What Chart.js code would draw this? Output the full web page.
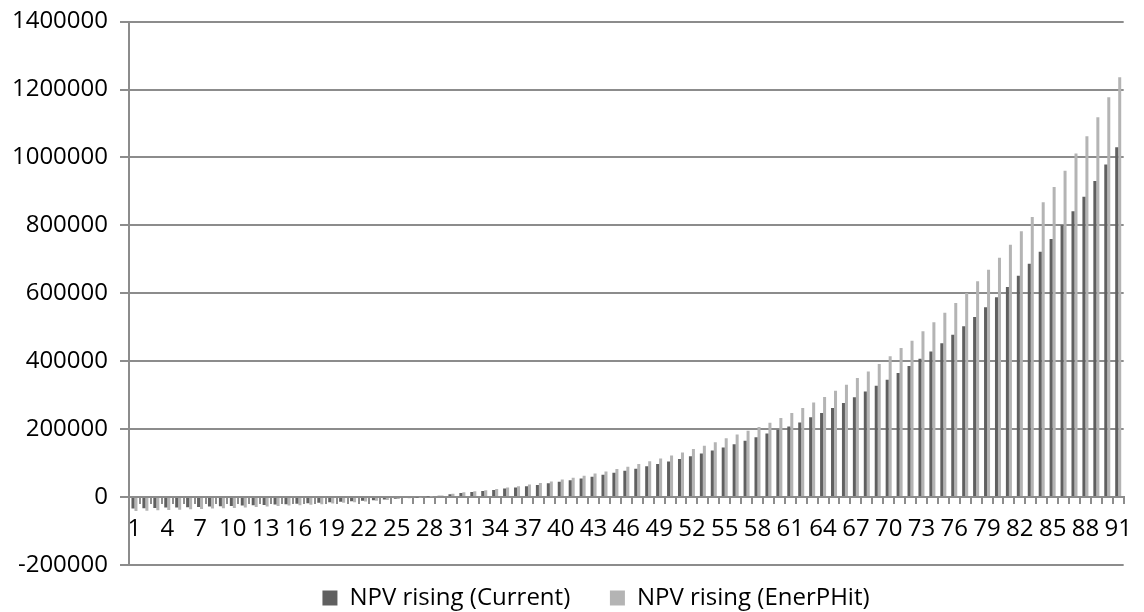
<!DOCTYPE html>
<html>
<head>
<meta charset="utf-8">
<script src="https://cdn.jsdelivr.net/npm/chart.js@4.4.1/dist/chart.umd.min.js"></script>
<style>
  html, body { margin: 0; padding: 0; background: #fff; }
  #wrap { width: 1144px; height: 612px; }
</style>
</head>
<body>
<div id="wrap"><canvas id="npvChart"></canvas></div>
<script>
const years = [
  "1", "2", "3", "4", "5", "6", "7", "8", "9", "10",
  "11", "12", "13", "14", "15", "16", "17", "18", "19", "20",
  "21", "22", "23", "24", "25", "26", "27", "28", "29", "30",
  "31", "32", "33", "34", "35", "36", "37", "38", "39", "40",
  "41", "42", "43", "44", "45", "46", "47", "48", "49", "50",
  "51", "52", "53", "54", "55", "56", "57", "58", "59", "60",
  "61", "62", "63", "64", "65", "66", "67", "68", "69", "70",
  "71", "72", "73", "74", "75", "76", "77", "78", "79", "80",
  "81", "82", "83", "84", "85", "86", "87", "88", "89", "90",
  "91"
];

const npvCurrent = [
  -34000, -33000, -32000, -31000, -30500, -30000, -29000, -28000, -27000, -26000,
  -25000, -24000, -23000, -22000, -21000, -20000, -18500, -17000, -15500, -14000,
  -12500, -10500, -9000, -7000, -5000, -3000, -1000, 1500, 4000, 8000,
  11900, 14900, 17900, 20900, 24900, 27900, 31800, 35800, 40800, 44800,
  49800, 54700, 59700, 65700, 71600, 77600, 83600, 90500, 97500, 104500,
  112400, 120400, 128400, 137300, 146300, 155200, 166200, 176100, 187000, 198300,
  208100, 219900, 234700, 247400, 262100, 276900, 293600, 311200, 327900, 345600,
  365200, 385800, 407400, 429000, 452600, 478100, 502700, 530200, 558600, 588100,
  618500, 651900, 687300, 722600, 759900, 800200, 841400, 884600, 930800, 978900,
  1029900
];

const npvEnerPHit = [
  -41000, -40000, -39000, -38000, -37000, -36000, -35000, -34000, -33000, -32000,
  -30500, -29000, -28000, -26500, -25000, -24000, -22500, -21000, -19000, -17000,
  -15000, -13000, -11000, -8500, -6000, -3500, -1000, 2000, 5000, 9500,
  13900, 16900, 19900, 23900, 27900, 31800, 36800, 41800, 45800, 51700,
  56700, 62700, 69700, 75600, 82600, 89600, 97500, 105500, 113400, 122400,
  131300, 141300, 151200, 161200, 173100, 184100, 195000, 206000, 219000, 232700,
  247400, 262100, 278800, 294500, 313200, 330900, 350500, 370100, 391700, 414300,
  438900, 460500, 488000, 514500, 542900, 571400, 600900, 635200, 669600, 704900,
  743200, 782500, 824700, 867900, 913100, 961200, 1011300, 1062300, 1118300, 1177200,
  1236100
];

const yMin = -200000;
const yMax = 1400000;
const yStep = 200000;

const gridGrey = "#8c8c8c";
const labelFont = { family: "'Open Sans', sans-serif", size: 24 };
const yTickFont = { family: "'Open Sans', sans-serif", size: 24, lineHeight: 0.8 };

// the legend sits a little right of the canvas centre in the original
const legendNudge = {
  id: "legendNudge",
  afterLayout(chart) {
    chart.legend.left += 60;
  },
};

function plotNpv() {
  let ctx = document.getElementById("npvChart").getContext("2d");

  new Chart(ctx, {
    type: "bar",
    data: {
      labels: years,
      datasets: [
        {
          label: "NPV rising (Current)",
          data: npvCurrent,
          backgroundColor: "#606060",
          barPercentage: 1,
          categoryPercentage: 0.55,
        },
        {
          label: "NPV rising (EnerPHit)",
          data: npvEnerPHit,
          backgroundColor: "#b4b4b4",
          barPercentage: 1,
          categoryPercentage: 0.55,
        },
      ],
    },
    plugins: [legendNudge],
    options: {
      responsive: true,
      maintainAspectRatio: false,
      animation: false,
      layout: {
        padding: { top: 0, right: 12, bottom: -8, left: 0 },
      },
      plugins: {
        legend: {
          position: "bottom",
          labels: {
            color: "#000",
            font: labelFont,
            boxWidth: 15,
            boxHeight: 15,
            padding: 21,
            // widen the gap between the two entries
            generateLabels: function (chart) {
              let items = Chart.defaults.plugins.legend.labels.generateLabels(chart);
              items[0].text += "   ";
              return items;
            },
          },
        },
        tooltip: { enabled: false },
      },
      scales: {
        x: {
          position: { y: 0 },
          grid: {
            offset: true,
            drawOnChartArea: false,
            color: gridGrey,
            lineWidth: 2,
            tickLength: 6,
          },
          border: { display: true, color: gridGrey, width: 2 },
          ticks: {
            autoSkip: false,
            maxRotation: 0,
            color: "#000",
            font: labelFont,
            padding: 12,
            callback: function (value, index) {
              if (index % 3 === 0) {
                return this.getLabelForValue(value);
              }
              return "";
            },
          },
        },
        y: {
          min: yMin,
          max: yMax,
          afterFit: function (scale) {
            scale.width = 129;
          },
          grid: {
            color: gridGrey,
            lineWidth: 2,
            tickLength: 9,
          },
          border: { display: true, color: gridGrey, width: 2 },
          ticks: {
            stepSize: yStep,
            color: "#000",
            font: yTickFont,
            padding: 12,
            callback: function (value) {
              return String(value);
            },
          },
        },
      },
    },
  });
}

plotNpv();
</script>
</body>
</html>
